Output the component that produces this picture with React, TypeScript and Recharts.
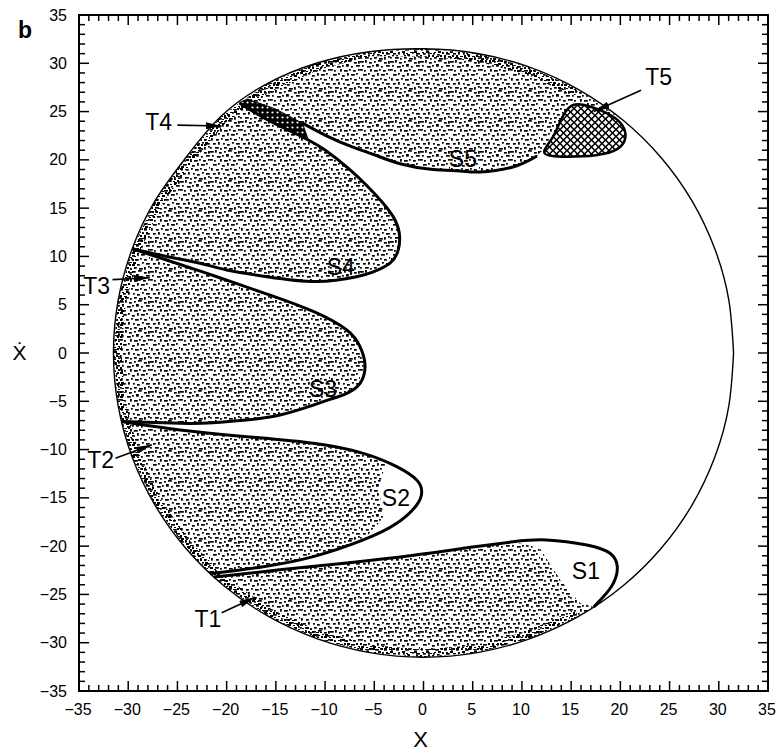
import { ScatterChart, Scatter, XAxis, YAxis, ReferenceArea, Curve } from "recharts";

const W = 778;
const H = 753;
const PLOT = { left: 79, right: 768, top: 15, bottom: 691 };

const ALL_TICKS = Array.from({ length: 71 }, (_, i) => i - 35);

type P = { x: number; y: number };
const pts = (a: number[][]): P[] => a.map(([x, y]) => ({ x, y }));

// outer boundary circle, read counter-clockwise from the right
const CIRCLE = pts([
  [31.5, 0], [31.02, 5.47], [29.6, 10.77], [27.28, 15.75], [24.13, 20.25], [20.25, 24.13],
  [15.75, 27.28], [10.77, 29.6], [5.47, 31.02], [0, 31.5], [-5.5, 31.2], [-10.9, 30.0],
  [-16.05, 27.8], [-20.57, 24.51], [-24.13, 20.25], [-27.28, 15.75], [-29.6, 10.77],
  [-31.02, 5.47], [-31.5, 0], [-31.02, -5.47], [-29.6, -10.77], [-27.28, -15.75],
  [-24.13, -20.25], [-20.25, -24.13], [-15.75, -27.28], [-10.77, -29.6], [-5.47, -31.02],
  [0, -31.5], [5.47, -31.02], [10.77, -29.6], [15.75, -27.28], [20.25, -24.13],
  [24.13, -20.25], [27.28, -15.75], [29.6, -10.77], [31.02, -5.47], [31.5, 0],
]);

// thick separatrix curves
const S5_LINE = pts([
  [-12.3, 23.8], [-10.01, 22.57], [-7.3, 21.36], [-4.93, 20.5], [-2.39, 19.6], [0.96, 19.0],
  [3.71, 18.85], [5.74, 18.74], [9.09, 19.26], [11.53, 20.4],
]);
const S4_LINE = pts([
  [-18.7, 25.9], [-16.1, 24.3], [-13.39, 22.92], [-11.7, 22.06], [-10.01, 21.02], [-7.6, 19.1],
  [-5.77, 17.35], [-4.3, 15.75], [-3.07, 14.1], [-2.46, 12.4], [-2.56, 10.7], [-3.4, 9.3],
  [-5.1, 8.4], [-6.8, 7.9], [-10.85, 7.4], [-15.9, 7.9], [-20.0, 8.6], [-22.7, 9.3],
  [-26.1, 10.0], [-29.6, 10.8],
]);
const S3_LINE = pts([
  [-29.6, 10.8], [-26.1, 9.63], [-21.0, 7.9], [-15.9, 6.1], [-11.2, 4.3], [-7.8, 2.38],
  [-6.45, 0.65], [-5.94, -1.3], [-6.45, -3.14], [-7.8, -4.17], [-9.5, -4.8], [-11.2, -5.39],
  [-14.6, -6.42], [-18.0, -6.94], [-21.4, -7.22], [-24.7, -7.28], [-30.7, -7.1],
]);
const S2_LINE = pts([
  [-30.7, -7.1], [-24.74, -7.97], [-17.96, -8.67], [-11.2, -9.35], [-6.12, -10.39],
  [-2.72, -11.77], [-0.69, -13.15], [-0.18, -14.36], [-0.69, -15.74], [-2.72, -17.64],
  [-6.12, -19.36], [-11.2, -21.09], [-16.28, -22.13], [-21.7, -22.85],
]);
const S1_LINE = pts([
  [-21.3, -23.2], [-14.6, -22.45], [-7.8, -21.75], [-1.0, -20.95], [5.0, -20.1], [9.1, -19.55],
  [12.5, -19.36], [16.6, -19.88], [18.95, -20.74], [19.69, -22.13], [19.28, -23.85],
  [18.27, -25.24], [17.3, -26.3],
]);

// cross-hatched pieces
const T5_HATCH = pts([
  [11.53, 20.4], [13.2, 22.1], [14.2, 24.9], [15.2, 25.9], [16.6, 25.7], [19.3, 24.6],
  [20.3, 23.6], [20.7, 22.4], [20.0, 21.0], [17.6, 20.4], [14.6, 20.3],
]);
const T4_HATCH = pts([
  [-18.7, 25.9], [-17.9, 26.3], [-15.1, 25.3], [-12.3, 23.8], [-11.7, 22.06], [-13.39, 22.92],
  [-16.1, 24.3], [-18.7, 25.9],
]);

// stippled regions
const S5_FILL = pts([
  [-18.7, 25.9], [-17.9, 26.3], [-15.1, 25.3], [-12.3, 23.8], [-10.01, 22.57], [-7.3, 21.36],
  [-4.93, 20.5], [-2.39, 19.6], [0.96, 19.0], [3.71, 18.85], [5.74, 18.74], [9.09, 19.26],
  [11.53, 20.4], [13.2, 22.1], [14.2, 24.9], [15.2, 25.9], [16.6, 25.7], [19.3, 24.6],
  [20.25, 24.13], [15.75, 27.28], [10.77, 29.6], [5.47, 31.02], [0, 31.5], [-5.5, 31.2],
  [-10.9, 30.0], [-16.05, 27.8],
]);
const S4_FILL = pts([
  [-18.7, 25.9], [-16.1, 24.3], [-13.39, 22.92], [-11.7, 22.06], [-10.01, 21.02], [-7.6, 19.1],
  [-5.77, 17.35], [-4.3, 15.75], [-3.07, 14.1], [-2.46, 12.4], [-2.56, 10.7], [-3.4, 9.3],
  [-5.1, 8.4], [-6.8, 7.9], [-10.85, 7.4], [-15.9, 7.9], [-20.0, 8.6], [-22.7, 9.3],
  [-26.1, 10.0], [-29.6, 10.8], [-27.28, 15.75], [-24.13, 20.25], [-20.57, 24.51],
]);
const S3_FILL = pts([
  [-29.6, 10.8], [-26.1, 9.63], [-21.0, 7.9], [-15.9, 6.1], [-11.2, 4.3], [-7.8, 2.38],
  [-6.45, 0.65], [-5.94, -1.3], [-6.45, -3.14], [-7.8, -4.17], [-9.5, -4.8], [-11.2, -5.39],
  [-14.6, -6.42], [-18.0, -6.94], [-21.4, -7.22], [-24.7, -7.28], [-30.7, -7.1],
  [-31.02, -5.47], [-31.5, 0], [-31.02, 5.47],
]);
const S2_FILL = pts([
  [-30.7, -7.1], [-24.74, -7.97], [-17.96, -8.67], [-11.2, -9.35], [-6.12, -10.39],
  [-3.8, -11.4], [-4.6, -14.0], [-4.0, -17.0], [-6.12, -19.36], [-11.2, -21.09],
  [-16.28, -22.13], [-21.7, -22.85], [-24.13, -20.25], [-27.28, -15.75], [-29.6, -10.77],
]);
const S1_FILL = pts([
  [-21.3, -23.2], [-14.6, -22.45], [-7.8, -21.75], [-1.0, -20.95], [5.0, -20.1], [9.1, -19.55],
  [11.8, -20.2], [13.9, -23.5], [15.9, -25.9], [17.3, -26.3], [15.75, -27.28], [10.77, -29.6],
  [5.47, -31.02], [0, -31.5], [-5.47, -31.02], [-10.77, -29.6], [-15.75, -27.28], [-20.25, -24.13],
]);

// darker rim of the stippled area just inside the circle (60 deg round to 300 deg)
const RIM = pts([
  [15.75, 27.28], [10.77, 29.6], [5.47, 31.02], [0, 31.5], [-5.5, 31.2], [-10.9, 30.0],
  [-16.05, 27.8], [-20.57, 24.51], [-24.13, 20.25], [-27.28, 15.75], [-29.6, 10.77],
  [-31.02, 5.47], [-31.5, 0], [-31.02, -5.47], [-29.6, -10.77], [-27.28, -15.75],
  [-24.13, -20.25], [-20.25, -24.13], [-15.75, -27.28], [-10.77, -29.6], [-5.47, -31.02],
  [0, -31.5], [5.47, -31.02], [10.77, -29.6], [15.75, -27.28],
  [15.35, -26.59], [10.5, -28.85], [5.33, -30.23], [0, -30.7], [-5.33, -30.23],
  [-10.5, -28.85], [-15.35, -26.59], [-19.73, -23.52], [-23.52, -19.73], [-26.59, -15.35],
  [-28.85, -10.5], [-30.23, -5.33], [-30.7, 0], [-30.23, 5.33], [-28.85, 10.5],
  [-26.59, 15.35], [-23.52, 19.73], [-20.05, 23.9], [-15.6, 27.02], [-10.67, 29.32],
  [-5.42, 30.73], [0, 30.7], [5.33, 30.23], [10.5, 28.85], [15.35, 26.59],
]);

// arrows, as (tail, head) pairs for T5, T4, T3, T2, T1
const ARROWS = pts([
  [22.1, 27.2], [17.3, 25.0],
  [-25.0, 23.6], [-20.5, 23.5],
  [-31.6, 7.6], [-27.8, 7.8],
  [-31.3, -10.9], [-27.6, -9.5],
  [-20.5, -26.9], [-17.1, -25.3],
]);

const LABELS = [
  { name: "S1", x: 16.5, y: -22.5 },
  { name: "S2", x: -2.8, y: -15.0 },
  { name: "S3", x: -10.2, y: -3.7 },
  { name: "S4", x: -8.4, y: 8.9 },
  { name: "S5", x: 4.0, y: 20.1 },
  { name: "T1", x: -21.9, y: -27.5 },
  { name: "T2", x: -32.8, y: -11.1 },
  { name: "T3", x: -33.2, y: 7.0 },
  { name: "T4", x: -26.9, y: 23.9 },
  { name: "T5", x: 23.9, y: 28.6 },
];

// speck layout of one stipple tile (30x30 px)
const SPECKS = [
  [0, 1, 3, 1], [5, 0, 1, 2], [9, 2, 2, 1], [14, 1, 1, 1], [18, 0, 3, 1], [24, 2, 2, 1], [28, 1, 1, 2],
  [2, 5, 1, 1], [7, 6, 3, 1], [12, 5, 1, 1], [16, 4, 2, 2], [21, 6, 1, 1], [26, 5, 3, 1],
  [0, 9, 2, 1], [4, 10, 1, 1], [10, 9, 1, 2], [14, 10, 3, 1], [19, 9, 1, 1], [23, 10, 2, 1], [28, 9, 1, 1],
  [3, 14, 3, 1], [8, 13, 1, 1], [12, 15, 2, 1], [17, 13, 1, 2], [21, 14, 3, 1], [26, 13, 1, 1],
  [1, 18, 1, 2], [6, 19, 2, 1], [11, 18, 1, 1], [15, 19, 3, 1], [20, 18, 1, 1], [24, 19, 2, 1], [29, 17, 1, 1],
  [3, 23, 2, 1], [8, 22, 1, 2], [13, 23, 1, 1], [17, 24, 2, 1], [22, 22, 1, 1], [26, 23, 3, 1],
  [0, 27, 1, 1], [5, 27, 3, 1], [10, 28, 1, 1], [14, 27, 2, 1], [19, 28, 3, 1], [24, 27, 1, 2], [28, 26, 1, 1],
];
const DENSE_SPECKS = [
  [0, 0, 3, 2], [5, 1, 2, 1], [9, 0, 2, 2], [2, 4, 2, 1], [6, 3, 3, 2], [10, 5, 2, 1],
  [0, 7, 2, 2], [4, 8, 3, 1], [8, 7, 2, 2], [1, 10, 3, 2], [6, 11, 2, 1], [10, 10, 2, 1],
];

const FONT = "'Liberation Sans', Arial, Helvetica, sans-serif";
const hidden = () => <g />;
const fmt = (v: number) => (v < 0 ? `\u2212${-v}` : `${v}`);

function XTick(props: any) {
  const { x, payload } = props;
  const v = payload.value;
  const major = v % 5 === 0;
  const len = major ? 10 : 6;
  return (
    <g>
      <line x1={x} x2={x} y1={PLOT.bottom} y2={PLOT.bottom - len} stroke="#000" strokeWidth={1.5} />
      <line x1={x} x2={x} y1={PLOT.top} y2={PLOT.top + len} stroke="#000" strokeWidth={1.5} />
      {major && (
        <text x={x - 1} y={PLOT.bottom + 24} textAnchor="middle" fontSize={16} fontFamily={FONT} fill="#000">
          {fmt(v)}
        </text>
      )}
    </g>
  );
}

function YTick(props: any) {
  const { y, payload } = props;
  const v = payload.value;
  const major = v % 5 === 0;
  const len = major ? 10 : 6;
  return (
    <g>
      <line x1={PLOT.left} x2={PLOT.left + len} y1={y} y2={y} stroke="#000" strokeWidth={1.5} />
      <line x1={PLOT.right} x2={PLOT.right - len} y1={y} y2={y} stroke="#000" strokeWidth={1.5} />
      {major && (
        <text x={PLOT.left - 12} y={y} dy="0.35em" textAnchor="end" fontSize={16} fontFamily={FONT} fill="#000">
          {fmt(v)}
        </text>
      )}
    </g>
  );
}

const areaFill = (fill: string, stroke = "none", sw = 0, type: any = "linear") => (p: any) => (
  <Curve points={p.points || []} type={type} fill={fill} stroke={stroke} strokeWidth={sw} />
);

const arrowLines = (p: any) => {
  const q = p.points || [];
  const segs = [];
  for (let i = 0; i + 1 < q.length; i += 2) {
    segs.push(
      <path
        key={i}
        d={`M${q[i].x},${q[i].y}L${q[i + 1].x},${q[i + 1].y}`}
        stroke="#000"
        strokeWidth={1.6}
        fill="none"
        markerEnd="url(#arrowHead)"
      />
    );
  }
  return <g>{segs}</g>;
};

const labelShape = (p: any) => (
  <text x={p.cx} y={p.cy} dy="0.36em" textAnchor="middle" fontSize={23} fontFamily={FONT} fill="#000">
    {p.payload.name}
  </text>
);

export default function App() {
  const thick = { stroke: "#000", strokeWidth: 3, fill: "none" };
  return (
    <div style={{ position: "relative", width: W, height: H }}>
      <style>{"body{margin:0;overflow:hidden}"}</style>
      <svg width={0} height={0} style={{ position: "absolute" }}>
        <defs>
          <pattern id="stipple" width={30} height={30} patternUnits="userSpaceOnUse">
            {SPECKS.map(([x, y, w, h], i) => (
              <rect key={i} x={x} y={y} width={w + 0.8} height={h + 0.7} fill="#000" />
            ))}
          </pattern>
          <pattern id="stippleDense" width={12} height={12} patternUnits="userSpaceOnUse">
            {DENSE_SPECKS.map(([x, y, w, h], i) => (
              <rect key={i} x={x} y={y} width={w} height={h} fill="#000" />
            ))}
          </pattern>
          <pattern id="hatch" width={7} height={7} patternUnits="userSpaceOnUse">
            <rect width={7} height={7} fill="#000" />
            <path d="M3.5,1.1 L5.9,3.5 L3.5,5.9 L1.1,3.5Z" fill="#fff" />
            <path d="M0,-2.4 L2.4,0 L0,2.4 L-2.4,0Z" fill="#fff" />
            <path d="M7,-2.4 L9.4,0 L7,2.4 L4.6,0Z" fill="#fff" />
            <path d="M0,4.6 L2.4,7 L0,9.4 L-2.4,7Z" fill="#fff" />
            <path d="M7,4.6 L9.4,7 L7,9.4 L4.6,7Z" fill="#fff" />
          </pattern>
          <pattern id="hatchFine" width={5} height={5} patternUnits="userSpaceOnUse">
            <rect width={5} height={5} fill="#000" />
            <circle cx={2.5} cy={2.5} r={1.1} fill="#fff" />
          </pattern>
          <marker
            id="arrowHead"
            viewBox="0 0 16 7"
            refX={16}
            refY={3.5}
            markerWidth={16}
            markerHeight={7}
            markerUnits="userSpaceOnUse"
            orient="auto"
          >
            <path d="M0,0 L16,3.5 L0,7 Z" fill="#000" />
          </marker>
        </defs>
      </svg>
      <ScatterChart width={W} height={H} margin={{ top: 15, right: 10, bottom: 0, left: 0 }}>
        <XAxis
          type="number"
          dataKey="x"
          domain={[-35, 35]}
          ticks={ALL_TICKS}
          interval={0}
          height={62}
          axisLine={false}
          tickLine={false}
          tick={<XTick />}
          allowDataOverflow
        />
        <YAxis
          type="number"
          dataKey="y"
          domain={[-35, 35]}
          ticks={ALL_TICKS}
          interval={0}
          width={79}
          axisLine={false}
          tickLine={false}
          tick={<YTick />}
          allowDataOverflow
        />
        <ReferenceArea x1={-35} x2={35} y1={-35} y2={35} fill="none" stroke="#000" strokeWidth={2} />

        <Scatter data={S5_FILL} line={areaFill("url(#stipple)")} shape={hidden} isAnimationActive={false} />
        <Scatter data={S4_FILL} line={areaFill("url(#stipple)")} shape={hidden} isAnimationActive={false} />
        <Scatter data={S3_FILL} line={areaFill("url(#stipple)")} shape={hidden} isAnimationActive={false} />
        <Scatter data={S2_FILL} line={areaFill("url(#stipple)")} shape={hidden} isAnimationActive={false} />
        <Scatter data={S1_FILL} line={areaFill("url(#stipple)")} shape={hidden} isAnimationActive={false} />
        <Scatter data={RIM} line={areaFill("url(#stippleDense)")} shape={hidden} isAnimationActive={false} />
        <Scatter data={T4_HATCH} line={areaFill("url(#hatchFine)", "#000", 1)} shape={hidden} isAnimationActive={false} />
        <Scatter
          data={T5_HATCH}
          line={areaFill("url(#hatch)", "#000", 2.5, "basisClosed")}
          shape={hidden}
          isAnimationActive={false}
        />

        <Scatter
          data={CIRCLE}
          line={{ stroke: "#000", strokeWidth: 1.4, fill: "none" }}
          lineJointType="natural"
          shape={hidden}
          isAnimationActive={false}
        />
        <Scatter data={S5_LINE} line={thick} lineJointType="natural" shape={hidden} isAnimationActive={false} />
        <Scatter data={S4_LINE} line={thick} lineJointType="natural" shape={hidden} isAnimationActive={false} />
        <Scatter data={S3_LINE} line={thick} lineJointType="natural" shape={hidden} isAnimationActive={false} />
        <Scatter data={S2_LINE} line={thick} lineJointType="natural" shape={hidden} isAnimationActive={false} />
        <Scatter data={S1_LINE} line={thick} lineJointType="natural" shape={hidden} isAnimationActive={false} />

        <Scatter data={ARROWS} line={arrowLines} shape={hidden} isAnimationActive={false} />
        <Scatter data={LABELS} shape={labelShape} isAnimationActive={false} />
      </ScatterChart>
      <svg width={W} height={H} style={{ position: "absolute", left: 0, top: 0, pointerEvents: "none" }}>
        <text x={18} y={38} fontSize={23} fontWeight="bold" fontFamily={FONT} fill="#000">
          b
        </text>
        <text x={19.5} y={360} textAnchor="middle" fontSize={21} fontFamily={`${FONT}, 'DejaVu Sans'`} fill="#000">
          Ẋ
        </text>
        <text x={420.5} y={747} textAnchor="middle" fontSize={22} fontFamily={FONT} fill="#000">
          X
        </text>
      </svg>
    </div>
  );
}
